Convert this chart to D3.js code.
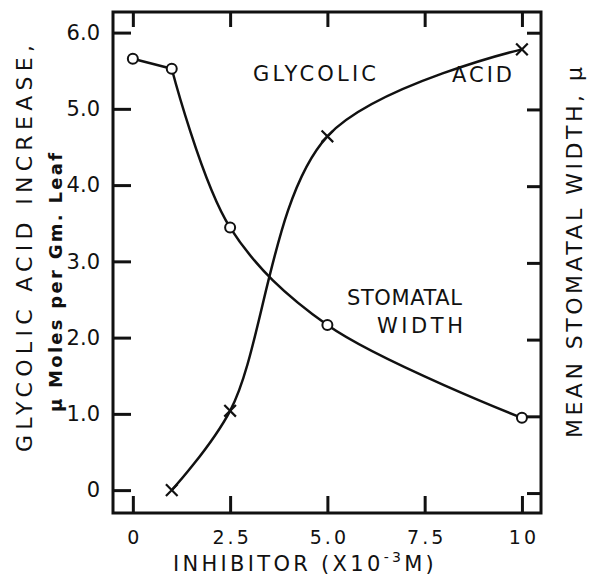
<!DOCTYPE html>
<html>
<head>
<meta charset="utf-8">
<script src="https://cdn.jsdelivr.net/npm/d3@7"></script>
<style>
body { margin: 0; background: #fff; }
text { font-family: "DejaVu Sans", sans-serif; fill: #111; }
</style>
</head>
<body>
<div id="chart"></div>
<script>
// axis ticks
var xTicks = [0, 2.5, 5, 7.5, 10];
var xTickLabels = ["0", "2.5", "5.0", "7.5", "10"];
var yTicks = [0, 1, 2, 3, 4, 5, 6];
var yTickLabels = ["0", "1.0", "2.0", "3.0", "4.0", "5.0", "6.0"];

// stomatal width (circles, right axis)
var inhibitor = [0, 1, 2.5, 5, 10];
var stomatalWidth = [5.66, 5.53, 3.46, 2.19, 0.98];

// glycolic acid increase (crosses, left axis)
var acidInhibitor = [1, 2.5, 5, 10];
var glycolicAcid = [0, 1.04, 4.64, 5.78];

var width = 589, height = 584;
var frame = {left: 113, right: 541, top: 12, bottom: 513};
var ink = "#111";

var svg = d3.select("#chart")
    .append("svg")
    .attr("width", width)
    .attr("height", height);

var x = d3.scaleLinear().domain([-0.51, 10.49]).range([frame.left, frame.right]);
var yL = d3.scaleLinear().domain([-0.30, 6.27]).range([frame.bottom, frame.top]);
var yR = d3.scaleLinear().domain([-0.26, 6.27]).range([frame.bottom, frame.top]);

// axes, ticks pointing inward
var bottom = svg.append("g")
    .attr("transform", "translate(0," + frame.bottom + ")")
    .call(d3.axisBottom(x).tickValues(xTicks)
        .tickFormat(function(d, i) { return xTickLabels[i]; })
        .tickSizeInner(-17).tickSizeOuter(0).tickPadding(18));
bottom.selectAll("text")
    .attr("font-size", 19)
    .attr("letter-spacing", "3px")
    .attr("dx", "1.5px");

svg.append("g")
    .attr("transform", "translate(0," + frame.top + ")")
    .call(d3.axisTop(x).tickValues(xTicks).tickFormat("")
        .tickSizeInner(-15).tickSizeOuter(0));

var left = svg.append("g")
    .attr("transform", "translate(" + frame.left + ",0)")
    .call(d3.axisLeft(yL).tickValues(yTicks)
        .tickFormat(function(d, i) { return yTickLabels[i]; })
        .tickSizeInner(-18).tickSizeOuter(0).tickPadding(13));
left.selectAll("text").attr("font-size", 21);

svg.append("g")
    .attr("transform", "translate(" + frame.right + ",0)")
    .call(d3.axisRight(yR).tickValues(yTicks).tickFormat("")
        .tickSizeInner(-14).tickSizeOuter(0));

svg.selectAll(".domain").remove();
svg.selectAll(".tick line")
    .attr("stroke", ink)
    .attr("stroke-width", 3);
svg.selectAll(".tick text").attr("fill", ink).style("font-family", "DejaVu Sans, sans-serif");

svg.append("rect")
    .attr("x", frame.left)
    .attr("y", frame.top)
    .attr("width", frame.right - frame.left)
    .attr("height", frame.bottom - frame.top)
    .attr("fill", "none")
    .attr("stroke", ink)
    .attr("stroke-width", 3);

// curves
var stomatal = inhibitor.map(function(d, i) { return [d, stomatalWidth[i]]; });
var acid = acidInhibitor.map(function(d, i) { return [d, glycolicAcid[i]]; });

var lineR = d3.line()
    .x(function(d) { return x(d[0]); })
    .y(function(d) { return yR(d[1]); });
var lineL = d3.line()
    .x(function(d) { return x(d[0]); })
    .y(function(d) { return yL(d[1]); })
    .curve(d3.curveCatmullRom.alpha(0.5));

svg.append("path")
    .attr("d", lineR(stomatal.slice(0, 2)))
    .attr("fill", "none").attr("stroke", ink).attr("stroke-width", 2.5);
svg.append("path")
    .attr("d", lineR.curve(d3.curveCatmullRom.alpha(0.5))(stomatal.slice(1)))
    .attr("fill", "none").attr("stroke", ink).attr("stroke-width", 2.5);
svg.append("path")
    .attr("d", lineL(acid))
    .attr("fill", "none").attr("stroke", ink).attr("stroke-width", 2.5);

svg.selectAll("circle.pt")
    .data(stomatal)
    .enter()
    .append("circle")
    .attr("class", "pt")
    .attr("cx", function(d) { return x(d[0]); })
    .attr("cy", function(d) { return yR(d[1]); })
    .attr("r", 5)
    .attr("fill", "#fff")
    .attr("stroke", ink)
    .attr("stroke-width", 2);

var cross = d3.symbol().type(d3.symbolX).size(90);
svg.selectAll("path.cross")
    .data(acid)
    .enter()
    .append("path")
    .attr("class", "cross")
    .attr("d", cross)
    .attr("transform", function(d) { return "translate(" + x(d[0]) + "," + yL(d[1]) + ")"; })
    .attr("fill", "none")
    .attr("stroke", ink)
    .attr("stroke-width", 2.2);

// labels inside the plot
function label(txt, px, py, len, size) {
    return svg.append("text")
        .attr("x", px)
        .attr("y", py)
        .attr("font-size", size)
        .attr("textLength", len)
        .attr("lengthAdjust", "spacing")
        .text(txt);
}
label("GLYCOLIC", 253, 81, 123, 21);
label("ACID", 452, 82, 60, 21);
label("STOMATAL", 347, 305, 115, 21);
label("WIDTH", 377, 333, 86, 21);

// axis titles
svg.append("text")
    .attr("transform", "translate(32,452) rotate(-90)")
    .attr("font-size", 22)
    .attr("textLength", 407)
    .attr("lengthAdjust", "spacing")
    .text("GLYCOLIC  ACID  INCREASE,");

svg.append("text")
    .attr("transform", "translate(62,412) rotate(-90)")
    .attr("font-size", 18)
    .attr("font-weight", "bold")
    .attr("textLength", 259)
    .attr("lengthAdjust", "spacing")
    .text("\u03BC Moles per Gm. Leaf");

svg.append("text")
    .attr("transform", "translate(582,438) rotate(-90)")
    .attr("font-size", 22)
    .attr("textLength", 371)
    .attr("lengthAdjust", "spacing")
    .text("MEAN  STOMATAL  WIDTH, \u03BC");

var xt = svg.append("text")
    .attr("x", 173)
    .attr("y", 571)
    .attr("font-size", 21)
    .attr("letter-spacing", "3.3px");
xt.append("tspan").text("INHIBITOR (X10");
xt.append("tspan").attr("dy", -9).attr("font-size", 14).text("-3");
xt.append("tspan").attr("dy", 9).text("M)");
</script>
</body>
</html>
